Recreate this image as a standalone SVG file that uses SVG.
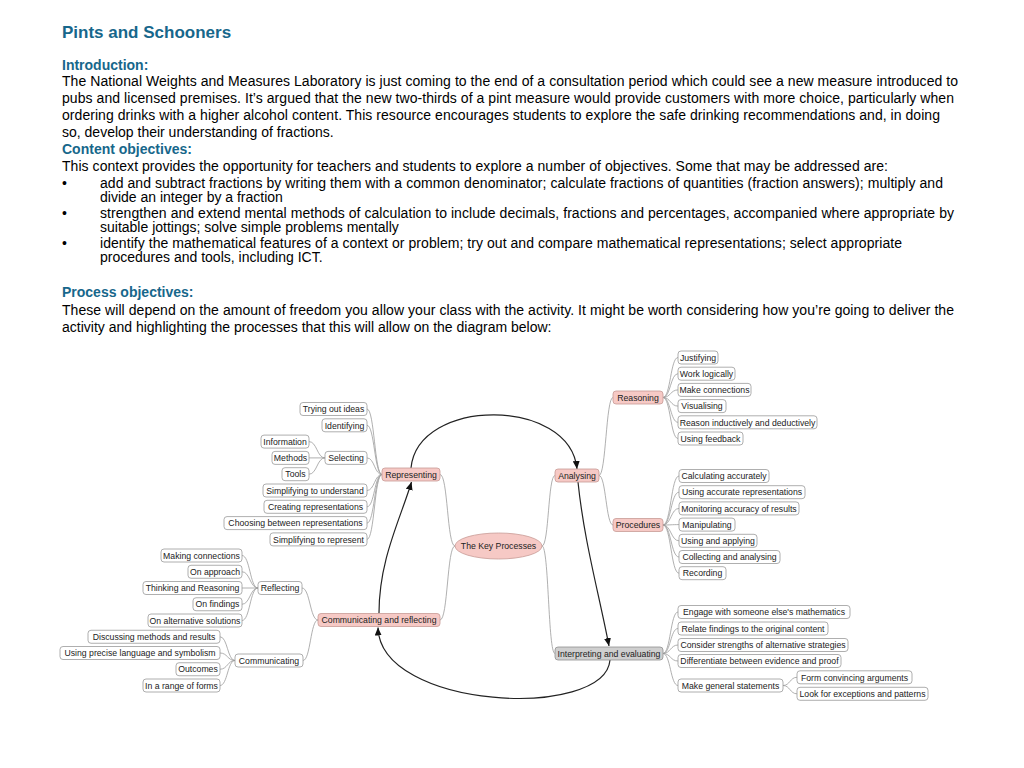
<svg xmlns="http://www.w3.org/2000/svg" width="1024" height="768" viewBox="0 0 1024 768">
<defs>
<style>
.bg{fill:#fff}
.h1{font-family:"Liberation Sans",Arial,sans-serif;font-size:17px;font-weight:bold;fill:#17678b}
.h2{font-family:"Liberation Sans",Arial,sans-serif;font-size:14px;font-weight:bold;fill:#17678b}
.body{font-family:"Liberation Sans",Arial,sans-serif;font-size:14px;fill:#000}
.n rect{fill:#fff;stroke:#9a9a9a;stroke-width:0.8}
.p rect,.p ellipse{fill:#f6c9c5;stroke:#c89a96;stroke-width:0.8}
.g rect{fill:#cfcfcf;stroke:#8f8f8f;stroke-width:0.8}
.n text,.p text,.g text{font-family:"Liberation Sans",Arial,sans-serif;font-size:8.7px;fill:#222;text-anchor:middle}
.c path{fill:none;stroke:#9c9c9c;stroke-width:0.8}
.a path{fill:none;stroke:#222;stroke-width:1.2}
</style>
<marker id="ah" viewBox="0 0 8 7" refX="8" refY="3.5" markerWidth="8" markerHeight="7" markerUnits="userSpaceOnUse" orient="auto">
<path d="M0,0 L8,3.5 L0,7 z" fill="#111"/>
</marker>
</defs>
<rect class="bg" x="0" y="0" width="1024" height="768"/>

<g id="text">
<text class="h1" x="62" y="38">Pints and Schooners</text>
<text class="h2" x="62" y="69.5">Introduction:</text>
<text class="body" x="62" y="85.5" textLength="896" lengthAdjust="spacing">The National Weights and Measures Laboratory is just coming to the end of a consultation period which could see a new measure introduced to</text>
<text class="body" x="62" y="102.5" textLength="892" lengthAdjust="spacing">pubs and licensed premises. It’s argued that the new two-thirds of a pint measure would provide customers with more choice, particularly when</text>
<text class="body" x="62" y="119.5" textLength="878" lengthAdjust="spacing">ordering drinks with a higher alcohol content. This resource encourages students to explore the safe drinking recommendations and, in doing</text>
<text class="body" x="62" y="136.5">so, develop their understanding of fractions.</text>
<text class="h2" x="62" y="154">Content objectives:</text>
<text class="body" x="62" y="171" textLength="826" lengthAdjust="spacing">This context provides the opportunity for teachers and students to explore a number of objectives. Some that may be addressed are:</text>
<text class="body" x="62" y="188">•</text>
<text class="body" x="100" y="188" textLength="843" lengthAdjust="spacing">add and subtract fractions by writing them with a common denominator; calculate fractions of quantities (fraction answers); multiply and</text>
<text class="body" x="100" y="201.5">divide an integer by a fraction</text>
<text class="body" x="62" y="218">•</text>
<text class="body" x="100" y="218" textLength="854" lengthAdjust="spacing">strengthen and extend mental methods of calculation to include decimals, fractions and percentages, accompanied where appropriate by</text>
<text class="body" x="100" y="231.5">suitable jottings; solve simple problems mentally</text>
<text class="body" x="62" y="248">•</text>
<text class="body" x="100" y="248" textLength="802" lengthAdjust="spacing">identify the mathematical features of a context or problem; try out and compare mathematical representations; select appropriate</text>
<text class="body" x="100" y="261.5">procedures and tools, including ICT.</text>
<text class="h2" x="62" y="297">Process objectives:</text>
<text class="body" x="62" y="314.5" textLength="892" lengthAdjust="spacing">These will depend on the amount of freedom you allow your class with the activity. It might be worth considering how you’re going to deliver the</text>
<text class="body" x="62" y="331.5">activity and highlighting the processes that this will allow on the diagram below:</text>
</g>

<g id="connectors" class="c">
<path d="M367,409 C374.5,409 374.5,474.5 382,474.5"/>
<path d="M367,425.3 C374.5,425.3 374.5,474.5 382,474.5"/>
<path d="M367,457.9 C374.5,457.9 374.5,474.5 382,474.5"/>
<path d="M367,490.5 C374.5,490.5 374.5,474.5 382,474.5"/>
<path d="M367,506.8 C374.5,506.8 374.5,474.5 382,474.5"/>
<path d="M367,523.1 C374.5,523.1 374.5,474.5 382,474.5"/>
<path d="M367,539.4 C374.5,539.4 374.5,474.5 382,474.5"/>
<path d="M309,441.6 C317,441.6 317,457.9 325,457.9"/>
<path d="M309,457.9 L325,457.9"/>
<path d="M309,474.2 C317,474.2 317,457.9 325,457.9"/>
<path d="M242,555.5 C250,555.5 250,588 258,588"/>
<path d="M242,571.75 C250,571.75 250,588 258,588"/>
<path d="M242,588 L258,588"/>
<path d="M242,604.25 C250,604.25 250,588 258,588"/>
<path d="M242,620.5 C250,620.5 250,588 258,588"/>
<path d="M220,636.75 C227.5,636.75 227.5,660.5 235,660.5"/>
<path d="M220,653 C227.5,653 227.5,660.5 235,660.5"/>
<path d="M220,669.25 C227.5,669.25 227.5,660.5 235,660.5"/>
<path d="M220,685.5 C227.5,685.5 227.5,660.5 235,660.5"/>
<path d="M302,588 C310,588 310,620 318,620"/>
<path d="M303,660.5 C310.5,660.5 310.5,620 318,620"/>
<path d="M440,474.5 C448,474.5 447,546 455,546"/>
<path d="M440,620 C448,620 447,546 455,546"/>
<path d="M542,546 C549,546 548,475.5 555,475.5"/>
<path d="M542,546 C549,546 548,653.5 555,653.5"/>
<path d="M599,475.5 C606,475.5 606,397.5 613,397.5"/>
<path d="M599,475.5 C606,475.5 606,525 613,525"/>
<path d="M663,397.5 C670.5,397.5 670.5,357.5 678,357.5"/>
<path d="M663,397.5 C670.5,397.5 670.5,373.7 678,373.7"/>
<path d="M663,397.5 C670.5,397.5 670.5,389.9 678,389.9"/>
<path d="M663,397.5 C670.5,397.5 670.5,406.1 678,406.1"/>
<path d="M663,397.5 C670.5,397.5 670.5,422.3 678,422.3"/>
<path d="M663,397.5 C670.5,397.5 670.5,438.5 678,438.5"/>
<path d="M663,525 C671,525 671,476 679,476"/>
<path d="M663,525 C671,525 671,492.2 679,492.2"/>
<path d="M663,525 C671,525 671,508.4 679,508.4"/>
<path d="M663,525 C671,525 671,524.6 679,524.6"/>
<path d="M663,525 C671,525 671,540.8 679,540.8"/>
<path d="M663,525 C671,525 671,557 679,557"/>
<path d="M663,525 C671,525 671,573.2 679,573.2"/>
<path d="M663,653.5 C670.5,653.5 670.5,612 678,612"/>
<path d="M663,653.5 C670.5,653.5 670.5,628.5 678,628.5"/>
<path d="M663,653.5 C670.5,653.5 670.5,645 678,645"/>
<path d="M663,653.5 C670.5,653.5 670.5,661 678,661"/>
<path d="M663,653.5 C670.5,653.5 670.5,685.5 678,685.5"/>
<path d="M783,685.5 C790,685.5 790,677.3 797,677.3"/>
<path d="M783,685.5 C790,685.5 790,693.8 797,693.8"/>
</g>

<g id="flow-arrows" class="a">
<path d="M411,468 C418,397 570,397 577,469" marker-end="url(#ah)"/>
<path d="M578,482 C584,540 598,590 609,646" marker-end="url(#ah)"/>
<path d="M610,660 C605,720 380,710 378,627.5" marker-end="url(#ah)"/>
<path d="M379,613 C379,560 400,520 411.5,482" marker-end="url(#ah)"/>
</g>

<g id="node-key" class="p"><ellipse cx="498.5" cy="546" rx="43.5" ry="13"/><text x="498.5" y="549.2">The Key Processes</text></g>

<g id="node-representing" class="p"><rect x="382" y="468" width="58" height="13" rx="3"/><text x="411" y="477.7">Representing</text></g>
<g id="node-trying" class="n"><rect x="300" y="402.5" width="67" height="13" rx="3"/><text x="333.5" y="412.2">Trying out ideas</text></g>
<g id="node-identifying" class="n"><rect x="322" y="418.8" width="45" height="13" rx="3"/><text x="344.5" y="428.5">Identifying</text></g>
<g id="node-selecting" class="n"><rect x="325" y="451.4" width="42" height="13" rx="3"/><text x="346" y="461.1">Selecting</text></g>
<g id="node-information" class="n"><rect x="261" y="435.1" width="48" height="13" rx="3"/><text x="285" y="444.8">Information</text></g>
<g id="node-methods" class="n"><rect x="272" y="451.4" width="37" height="13" rx="3"/><text x="290.5" y="461.1">Methods</text></g>
<g id="node-tools" class="n"><rect x="282" y="467.7" width="27" height="13" rx="3"/><text x="295.5" y="477.4">Tools</text></g>
<g id="node-simp-understand" class="n"><rect x="263" y="484" width="104" height="13" rx="3"/><text x="315" y="493.7">Simplifying to understand</text></g>
<g id="node-creating" class="n"><rect x="264" y="500.3" width="103" height="13" rx="3"/><text x="315.5" y="510">Creating representations</text></g>
<g id="node-choosing" class="n"><rect x="224" y="516.6" width="143" height="13" rx="3"/><text x="295.5" y="526.3">Choosing between representations</text></g>
<g id="node-simp-represent" class="n"><rect x="270" y="532.9" width="97" height="13" rx="3"/><text x="318.5" y="542.6">Simplifying to represent</text></g>

<g id="node-comm-reflect" class="p"><rect x="318" y="613.5" width="122" height="13" rx="3"/><text x="379" y="623.2">Communicating and reflecting</text></g>
<g id="node-reflecting" class="n"><rect x="258" y="581.5" width="44" height="13" rx="3"/><text x="280" y="591.2">Reflecting</text></g>
<g id="node-making" class="n"><rect x="161" y="549" width="81" height="13" rx="3"/><text x="201.5" y="558.7">Making connections</text></g>
<g id="node-approach" class="n"><rect x="188" y="565.25" width="54" height="13" rx="3"/><text x="215" y="574.95">On approach</text></g>
<g id="node-thinking" class="n"><rect x="143" y="581.5" width="99" height="13" rx="3"/><text x="192.5" y="591.2">Thinking and Reasoning</text></g>
<g id="node-findings" class="n"><rect x="193" y="597.75" width="49" height="13" rx="3"/><text x="217.5" y="607.45">On findings</text></g>
<g id="node-alternative" class="n"><rect x="148" y="614" width="94" height="13" rx="3"/><text x="195" y="623.7">On alternative solutions</text></g>
<g id="node-communicating" class="n"><rect x="235" y="654" width="68" height="13" rx="3"/><text x="269" y="663.7">Communicating</text></g>
<g id="node-discussing" class="n"><rect x="88" y="630.25" width="132" height="13" rx="3"/><text x="154" y="639.95">Discussing methods and results</text></g>
<g id="node-precise" class="n"><rect x="60" y="646.5" width="160" height="13" rx="3"/><text x="140" y="656.2">Using precise language and symbolism</text></g>
<g id="node-outcomes" class="n"><rect x="176" y="662.75" width="44" height="13" rx="3"/><text x="198" y="672.45">Outcomes</text></g>
<g id="node-forms" class="n"><rect x="143" y="679" width="77" height="13" rx="3"/><text x="181.5" y="688.7">In a range of forms</text></g>

<g id="node-analysing" class="p"><rect x="555" y="469" width="44" height="13" rx="3"/><text x="577" y="478.7">Analysing</text></g>
<g id="node-reasoning" class="p"><rect x="613" y="391" width="50" height="13" rx="3"/><text x="638" y="400.7">Reasoning</text></g>
<g id="node-justifying" class="n"><rect x="678" y="351" width="40" height="13" rx="3"/><text x="698" y="360.7">Justifying</text></g>
<g id="node-work" class="n"><rect x="678" y="367.2" width="57" height="13" rx="3"/><text x="706.5" y="376.9">Work logically</text></g>
<g id="node-make-conn" class="n"><rect x="678" y="383.4" width="73" height="13" rx="3"/><text x="714.5" y="393.1">Make connections</text></g>
<g id="node-visualising" class="n"><rect x="678" y="399.6" width="48" height="13" rx="3"/><text x="702" y="409.3">Visualising</text></g>
<g id="node-inductive" class="n"><rect x="678" y="415.8" width="139" height="13" rx="3"/><text x="747.5" y="425.5">Reason inductively and deductively</text></g>
<g id="node-feedback" class="n"><rect x="678" y="432" width="65" height="13" rx="3"/><text x="710.5" y="441.7">Using feedback</text></g>

<g id="node-procedures" class="p"><rect x="613" y="518.5" width="50" height="13" rx="3"/><text x="638" y="528.2">Procedures</text></g>
<g id="node-calc" class="n"><rect x="679" y="469.5" width="90" height="13" rx="3"/><text x="724" y="479.2">Calculating accurately</text></g>
<g id="node-accurate-rep" class="n"><rect x="679" y="485.7" width="126" height="13" rx="3"/><text x="742" y="495.4">Using accurate representations</text></g>
<g id="node-monitoring" class="n"><rect x="679" y="501.9" width="120" height="13" rx="3"/><text x="739" y="511.6">Monitoring accuracy of results</text></g>
<g id="node-manipulating" class="n"><rect x="679" y="518.1" width="56" height="13" rx="3"/><text x="707" y="527.8">Manipulating</text></g>
<g id="node-applying" class="n"><rect x="679" y="534.3" width="78" height="13" rx="3"/><text x="718" y="544">Using and applying</text></g>
<g id="node-collecting" class="n"><rect x="679" y="550.5" width="101" height="13" rx="3"/><text x="729.5" y="560.2">Collecting and analysing</text></g>
<g id="node-recording" class="n"><rect x="679" y="566.7" width="47" height="13" rx="3"/><text x="702.5" y="576.4">Recording</text></g>

<g id="node-interpreting" class="g"><rect x="555" y="647" width="108" height="13" rx="3"/><text x="609" y="656.7">Interpreting and evaluating</text></g>
<g id="node-engage" class="n"><rect x="678" y="605.5" width="172" height="13" rx="3"/><text x="764" y="615.2">Engage with someone else's mathematics</text></g>
<g id="node-relate" class="n"><rect x="678" y="622" width="150" height="13" rx="3"/><text x="753" y="631.7">Relate findings to the original content</text></g>
<g id="node-consider" class="n"><rect x="678" y="638.5" width="170" height="13" rx="3"/><text x="763" y="648.2">Consider strengths of alternative strategies</text></g>
<g id="node-differentiate" class="n"><rect x="678" y="654.5" width="163" height="13" rx="3"/><text x="759.5" y="664.2">Differentiate between evidence and proof</text></g>
<g id="node-general" class="n"><rect x="678" y="679" width="105" height="13" rx="3"/><text x="730.5" y="688.7">Make general statements</text></g>
<g id="node-convincing" class="n"><rect x="797" y="670.8" width="115" height="13" rx="3"/><text x="854.5" y="680.5">Form convincing arguments</text></g>
<g id="node-exceptions" class="n"><rect x="797" y="687.3" width="131" height="13" rx="3"/><text x="862.5" y="697">Look for exceptions and patterns</text></g>
</svg>
